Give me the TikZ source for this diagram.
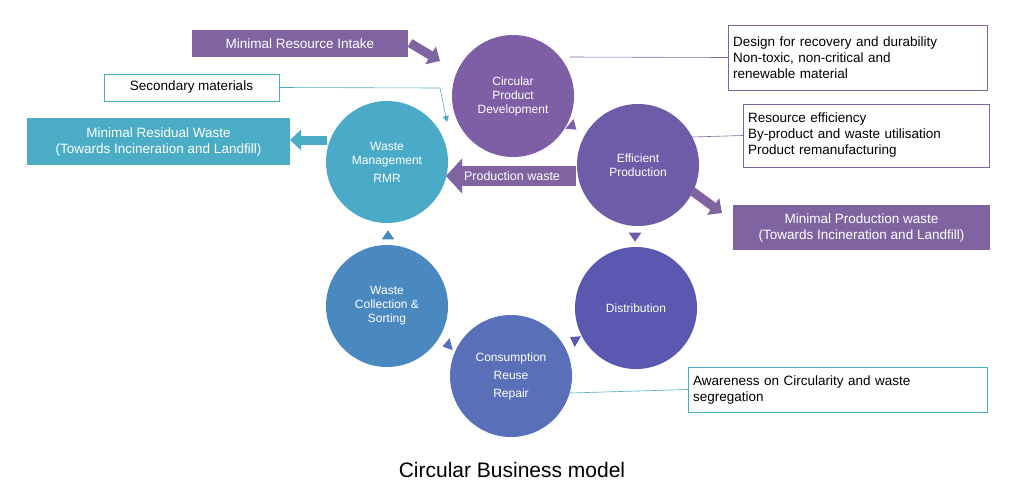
\documentclass[tikz,border=0pt]{standalone}
\usepackage{fontspec}
\setmainfont{Liberation Sans}
\usetikzlibrary{arrows.meta,shapes.geometric}
\definecolor{c1}{HTML}{7E5FA6}
\definecolor{c2}{HTML}{6E5CA8}
\definecolor{c3}{HTML}{5A58B0}
\definecolor{c4}{HTML}{5970B9}
\definecolor{c5}{HTML}{4A89C0}
\definecolor{c6}{HTML}{4BAAC8}
\definecolor{pur}{HTML}{8064A2}
\definecolor{teal}{HTML}{4BACC6}
\begin{document}
\begin{tikzpicture}[x=1pt,y=-1pt,
  circ/.style={circle,minimum size=122pt,inner sep=0pt,text=white,align=center,font=\fontsize{12}{14}\selectfont},
  fbox/.style={draw=none,fill=#1,text=white,align=center,font=\fontsize{13.5}{16}\selectfont,inner sep=0pt},
  wbox/.style={draw=#1,fill=white,align=left,font=\fontsize{13.5}{16}\selectfont,inner sep=0pt,text=black},
  tri/.style={fill=#1,draw=none,isosceles triangle,isosceles triangle apex angle=70,minimum size=9pt,inner sep=0pt},
  fat/.style={draw=#1,line width=9pt,-{Triangle[length=11pt,width=20pt]}},
  thin/.style={draw=#1,line width=0.6pt}]
\useasboundingbox (0,0) rectangle (1024,499);
\node[circ,fill=c1] (cpd) at (513,96) {Circular\\Product\\Development};
\node[circ,fill=c2] (ep) at (638,165) {Efficient\\Production};
\node[circ,fill=c3] (dis) at (636,308) {Distribution};
\node[circ,fill=c4] (con) at (511,376) {Consumption\\[4pt]Reuse\\[4pt]Repair};
\node[circ,fill=c5] (wcs) at (387,306) {Waste\\Collection \&\\Sorting};
\node[circ,fill=c6] (wm) at (387,162) {Waste\\Management\\[4pt]RMR};
% small triangles
\node[tri=c1,rotate=-40] (t1) at (572,126) {};
\node[tri=c2,rotate=-90] (t2) at (635,236) {};
\node[tri=c3,rotate=150] (t3) at (575,340) {};
\node[tri=c4,rotate=195] (t4) at (448,345) {};
\node[tri=c5,rotate=90] (t5) at (388,236) {};
% boxes
\node[fbox=pur,minimum width=216pt,minimum height=27pt] (mri) at (300,43.5) {Minimal Resource Intake};
\node[wbox=teal,minimum width=175pt,minimum height=27pt,align=center] (sec) at (191.5,87.5) {Secondary materials};
\node[fbox=teal,minimum width=263pt,minimum height=47pt] (mrw) at (158.5,141.5) {Minimal Residual Waste\\(Towards Incineration and Landfill)};
\node[wbox=pur,minimum width=259pt,minimum height=65pt,text width=249pt] (des) at (857.5,57.5) {Design for recovery and durability\\Non-toxic, non-critical and\\renewable material};
\node[wbox=pur,minimum width=246pt,minimum height=63pt,text width=236pt] (res) at (866,135.5) {Resource efficiency\\By-product and waste utilisation\\Product remanufacturing};
\node[fbox=pur,minimum width=257pt,minimum height=45pt] (mpw) at (861.5,227.5) {Minimal Production waste\\(Towards Incineration and Landfill)};
\node[wbox=teal,minimum width=299pt,minimum height=45pt,text width=289pt] (awa) at (837.5,389.5) {Awareness on Circularity and waste\\segregation};
\node[font=\fontsize{21}{24}\selectfont] (title) at (512,470) {Circular Business model};
% connectors
\coordinate (mriE) at (410,43); \coordinate (cpdA) at (440,61);
\draw[fat=pur] (mriE) -- (cpdA);
\coordinate (wmL) at (327,140); \coordinate (mrwR) at (290,140);
\draw[fat=teal] (wmL) -- (mrwR);
\coordinate (epA) at (692,191); \coordinate (mpwA) at (722,213);
\draw[fat=pur] (epA) -- (mpwA);
\coordinate (pwS) at (576,176); \coordinate (pwE) at (446,176);
\draw[draw=pur,line width=20pt,-{Triangle[length=16pt,width=34pt]}] (pwS) -- (pwE);
\node[text=white,font=\fontsize{12.5}{14}\selectfont] (pwt) at (512,176) {Production waste};
\coordinate (sc1) at (440,88); \coordinate (sc2) at (447,122);
\draw[thin=teal,-{Triangle[length=6pt,width=6pt]}] (sec.east) -- (sc1) -- (sc2);
\coordinate (dc) at (570,57);
\draw[thin=pur] (des.west) -- (dc);
\coordinate (rc) at (692,137);
\draw[thin=pur] (res.west) -- (rc);
\coordinate (ac) at (570,393);
\draw[thin=teal] (awa.west) -- (ac);
\end{tikzpicture}
\end{document}
